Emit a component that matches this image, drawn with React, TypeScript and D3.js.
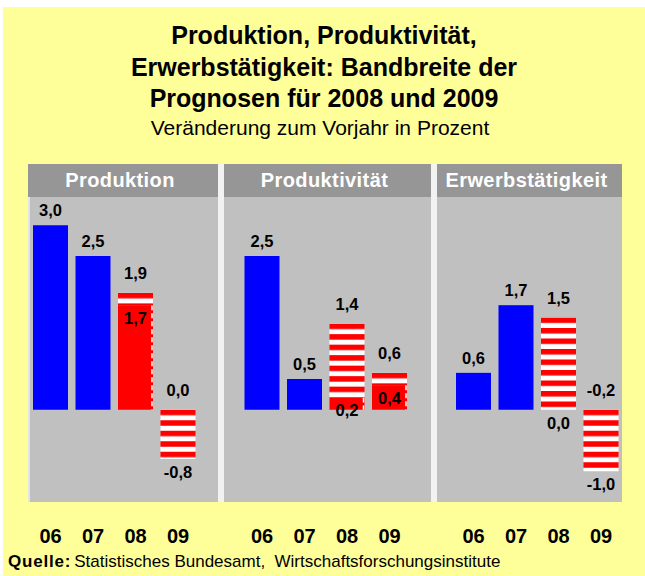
import React from 'react';
import * as d3 from 'd3';

const panels = ['Produktion', 'Produktivität', 'Erwerbstätigkeit'];
const years = ['06', '07', '08', '09'];
// Ist-Werte 2006 und 2007
const actual06 = [3.0, 2.5, 0.6];
const actual07 = [2.5, 0.5, 1.7];
// Bandbreite der Prognosen (untere / obere Grenze)
const low08 = [1.7, 0.2, 0.0];
const high08 = [1.9, 1.4, 1.5];
const low09 = [-0.8, 0.4, -1.0];
const high09 = [0.0, 0.6, -0.2];

const titleLines = ['Produktion, Produktivität,', 'Erwerbstätigkeit: Bandbreite der', 'Prognosen für 2008 und 2009'];
const subtitle = 'Veränderung zum Vorjahr in Prozent';
const sourceLabel = 'Quelle:';
const sourceText = 'Statistisches Bundesamt,  Wirtschaftsforschungsinstitute';

const W = 645;
const H = 576;
const font = '"Liberation Sans", Arial, sans-serif';
const BLUE = '#0000ff';
const RED = '#ff0000';
const headerTop = 164;
const headerBottom = 197;
const bodyBottom = 502;
// panel edges (left, right)
const panelEdges = [[28, 218], [224, 431], [437, 622]];

const fmt = d3.formatLocale({ decimal: ',', thousands: '.', grouping: [3], currency: ['', ' €'], minus: '-' }).format('.1f');

const y = d3.scaleLinear().domain([-1.5, 3.5]).range([bodyBottom, 194.5]);
const xGroup = d3.scaleBand<string>().domain(panels).range([33, 33 + 3 * 211.5]);
const xInner = d3.scaleBand<string>().domain(years).range([0, 162.5]).paddingInner(7.5 / 42.5);

export default function App() {
  const bw = xInner.bandwidth();
  const marks: React.ReactNode[] = [];
  const defs: React.ReactNode[] = [];
  const labels: React.ReactNode[] = [];

  panels.forEach((p, i) => {
    const gx = xGroup(p)!;
    const actual = [actual06[i], actual07[i]];
    actual.forEach((v, j) => {
      const x = gx + xInner(years[j])!;
      marks.push(
        <rect key={`a${i}${j}`} x={x} y={y(Math.max(v, 0))} width={bw}
          height={Math.abs(y(v) - y(0))} fill={BLUE} />
      );
      labels.push(
        <text key={`la${i}${j}`} x={x + bw / 2} y={y(v) - 9} textAnchor="middle">{fmt(v)}</text>
      );
    });
    const ranges = [[low08[i], high08[i]], [low09[i], high09[i]]];
    ranges.forEach(([lo, hi], k) => {
      const j = k + 2;
      const x = gx + xInner(years[j])!;
      const id = `st${i}${j}`;
      let sTop: number, sBot: number;
      if (lo > 0) {
        sTop = y(hi);
        sBot = y(lo);
        marks.push(
          <g key={`s${i}${j}`}>
            <rect x={x} y={y(lo)} width={bw} height={y(0) - y(lo)} fill={RED} />
            <line x1={x + bw - 1} x2={x + bw - 1} y1={y(lo)} y2={y(0)} stroke="#fff"
              strokeWidth={1.5} strokeDasharray="5,3" />
          </g>
        );
      } else {
        sTop = y(Math.max(hi, 0));
        sBot = y(Math.min(lo, 0));
      }
      defs.push(
        <pattern key={id} id={id} patternUnits="userSpaceOnUse" x={0} y={sTop} width={10} height={10.5}>
          <rect width={10} height={10.5} fill="#fff" />
          <rect width={10} height={5.5} fill={RED} />
        </pattern>
      );
      marks.push(
        <rect key={`r${i}${j}`} x={x} y={sTop} width={bw} height={sBot - sTop} fill={`url(#${id})`} />
      );
      labels.push(
        <text key={`lh${i}${j}`} x={x + bw / 2} y={y(Math.max(hi, 0)) - 14} textAnchor="middle">{fmt(hi)}</text>,
        <text key={`ll${i}${j}`} x={x + bw / 2} y={y(lo) + 19} textAnchor="middle">{fmt(lo)}</text>
      );
    });
  });

  return (
    <svg width={W} height={H} style={{ position: 'absolute', left: 0, top: 0 }} fontFamily={font}>
      <defs>{defs}</defs>
      <rect x={0} y={0} width={W} height={H} fill="#fff" />
      <rect x={3} y={7} width={W - 3} height={H - 7} fill="#ffff99" />

      <g textAnchor="middle" fontWeight="bold" fontSize={25} fill="#000">
        {titleLines.map((t, i) => (
          <text key={i} x={324} y={44 + i * 31.5}>{t}</text>
        ))}
      </g>
      <text x={320} y={135} textAnchor="middle" fontSize={21}>{subtitle}</text>

      {panelEdges.map(([l, r], i) => (
        <g key={i}>
          <rect x={l} y={headerTop} width={r - l} height={headerBottom - headerTop} fill="#969696" />
          <rect x={l} y={headerBottom} width={r - l} height={bodyBottom - headerBottom} fill="#c0c0c0" />
          <text x={(l + r) / 2 - 3} y={187} textAnchor="middle" fill="#fff" fontWeight="bold" fontSize={20}
            letterSpacing={0.4}>
            {panels[i]}
          </text>
        </g>
      ))}
      <rect x={28} y={headerBottom} width={2} height={bodyBottom - headerBottom} fill="#e4e4e4" />
      {panelEdges.slice(0, -1).map(([, r], i) => (
        <rect key={i} x={r} y={headerTop} width={panelEdges[i + 1][0] - r} height={bodyBottom - headerTop} fill="#f2f2f2" />
      ))}

      {marks}

      <g fontWeight="bold" fontSize={16.5} fill="#000">{labels}</g>

      <g fontWeight="bold" fontSize={20} textAnchor="middle">
        {panels.map((p) => years.map((c) => (
          <text key={p + c} x={xGroup(p)! + xInner(c)! + bw / 2} y={543}>{c}</text>
        )))}
      </g>

      <text x={8} y={567} fontSize={17} style={{ whiteSpace: 'pre' }}>
        <tspan fontWeight="bold" letterSpacing={0.8}>{sourceLabel}</tspan>
        <tspan dx={3}>{sourceText}</tspan>
      </text>
    </svg>
  );
}
